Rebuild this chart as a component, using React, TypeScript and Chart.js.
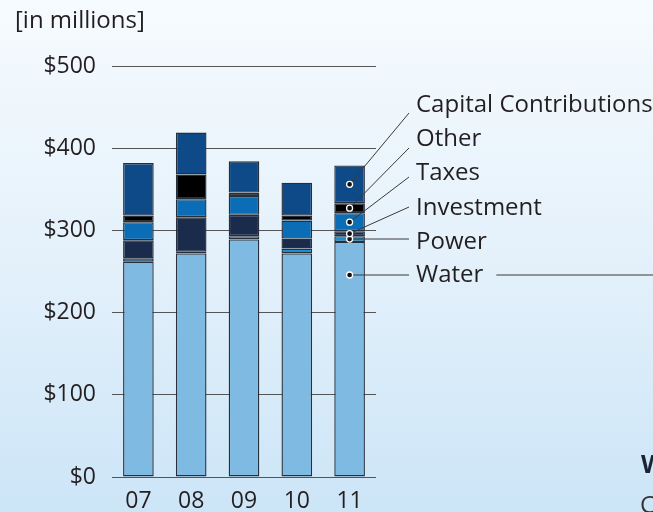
import React, { useEffect, useRef } from "react";
import { Chart, registerables } from "chart.js";

Chart.register(...registerables);

const categories = ["07", "08", "09", "10", "11"];
const seriesNames = ["Water", "Power", "Investment", "Taxes", "Other", "Capital Contributions"];
const water = [262, 272, 289, 272, 286];
const power = [4, 2, 4, 6, 7];
const investment = [22, 42, 26, 12, 6];
const taxes = [22, 22, 23, 22, 22];
const other = [8, 30, 4, 6, 12];
const capital = [64, 51, 38, 40, 46];
const yTicks = [0, 100, 200, 300, 400, 500];
const unitLabel = "[in millions]";

const seriesValues = [water, power, investment, taxes, other, capital];
const seriesColors = ["#7fbae3", "#1a90d3", "#1b2b4b", "#0b6db5", "#000000", "#0d4a87"];

const FONT = "'Open Sans'";
const FS = 23;
const LFS = 24;
const TEXT = "#231f20";

// annotation layout (text centers / callout end points)
const labelX = 416;
const labelYs = [275, 242, 208, 173, 139, 105];
const lineEndYs = [275, 239, 207, 177, 148, 113];

const bgPlugin = {
  id: "bg",
  beforeDraw(chart: any) {
    const { ctx, width, height } = chart;
    ctx.save();
    const g = ctx.createLinearGradient(0, 0, 0, height);
    g.addColorStop(0, "#f6fbfe");
    g.addColorStop(0.5, "#e4f1fb");
    g.addColorStop(1, "#cce5f7");
    ctx.fillStyle = g;
    ctx.fillRect(0, 0, width, height);
    ctx.restore();
  },
};

const calloutPlugin = {
  id: "callouts",
  afterDraw(chart: any) {
    const { ctx } = chart;
    ctx.save();
    ctx.font = `${LFS}px ${FONT}`;
    ctx.fillStyle = TEXT;
    ctx.textBaseline = "middle";
    ctx.textAlign = "left";
    ctx.fillText(unitLabel, 15, 21);

    const last = categories.length - 1;
    for (let i = 0; i < seriesNames.length; i++) {
      const el = chart.getDatasetMeta(i).data[last];
      const x = el.x;
      const dy = i === 0 ? lineEndYs[0] : (el.y + el.base) / 2;
      ctx.strokeStyle = "#3a3a3a";
      ctx.lineWidth = 1;
      ctx.beginPath();
      ctx.moveTo(x, dy);
      ctx.lineTo(labelX - 7, lineEndYs[i]);
      ctx.stroke();
      ctx.fillStyle = TEXT;
      ctx.fillText(seriesNames[i], labelX, labelYs[i]);
      if (i === 0) {
        const w = ctx.measureText(seriesNames[i]).width;
        ctx.beginPath();
        ctx.moveTo(labelX + w + 13, lineEndYs[0]);
        ctx.lineTo(chart.width, lineEndYs[0]);
        ctx.stroke();
      }
    }
    for (let i = 0; i < seriesNames.length; i++) {
      const el = chart.getDatasetMeta(i).data[last];
      const dy = i === 0 ? lineEndYs[0] : (el.y + el.base) / 2;
      ctx.beginPath();
      ctx.arc(el.x, dy, 3, 0, Math.PI * 2);
      ctx.fillStyle = "#111";
      ctx.fill();
      ctx.strokeStyle = "#ffffff";
      ctx.lineWidth = 1.3;
      ctx.stroke();
    }
    // cut-off neighbouring text at the bottom right
    ctx.fillStyle = "#1b2433";
    ctx.font = `bold 25px ${FONT}`;
    ctx.fillText("W", 641, 466);
    ctx.font = `${LFS}px ${FONT}`;
    ctx.fillStyle = "#333";
    ctx.fillText("C", 640, 506);
    ctx.restore();
  },
};

export default function App() {
  const ref = useRef<HTMLCanvasElement | null>(null);
  useEffect(() => {
    if (!ref.current) return;
    const chart = new Chart(ref.current, {
      type: "bar",
      data: {
        labels: categories,
        datasets: seriesNames.map((name, i) => ({
          label: name,
          data: seriesValues[i],
          backgroundColor: seriesColors[i],
          borderColor: "#27303a",
          borderWidth: 1.4,
          borderSkipped: false,
          barPercentage: 0.58,
          categoryPercentage: 1,
        })),
      },
      options: {
        animation: false,
        responsive: false,
        events: [],
        layout: { padding: { top: 66, right: 277, left: 0, bottom: 0 } },
        plugins: { legend: { display: false }, tooltip: { enabled: false } },
        scales: {
          x: {
            stacked: true,
            grid: { display: false },
            border: { display: false },
            ticks: { color: TEXT, font: { family: FONT, size: FS }, padding: 3 },
            afterFit: (s: any) => {
              s.height = 35;
            },
          },
          y: {
            stacked: true,
            min: 0,
            max: 500,
            afterBuildTicks: (s: any) => {
              s.ticks = yTicks.map((v) => ({ value: v }));
            },
            grid: { color: "#555", lineWidth: 1, drawTicks: false },
            border: { display: false },
            ticks: {
              color: TEXT,
              font: { family: FONT, size: FS },
              padding: 16,
              callback: (v: any) => "$" + v,
            },
            afterFit: (s: any) => {
              s.width = 112;
            },
          },
        },
      },
      plugins: [bgPlugin, calloutPlugin],
    });
    return () => chart.destroy();
  }, []);
  return (
    <div style={{ position: "absolute", left: 0, top: 0, width: 653, height: 512 }}>
      <canvas ref={ref} width={653} height={512} />
    </div>
  );
}
